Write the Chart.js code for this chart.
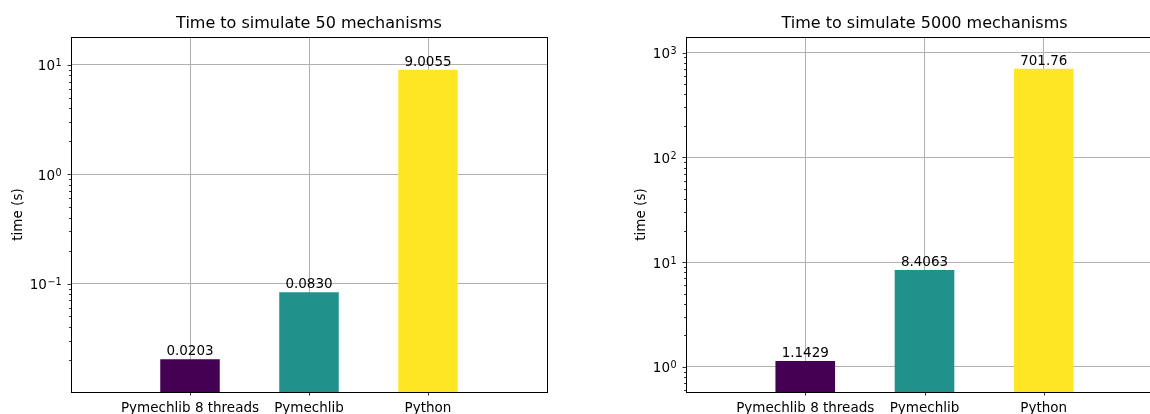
<!DOCTYPE html>
<html>
<head>
<meta charset="utf-8">
<script src="https://cdn.jsdelivr.net/npm/chart.js@4.4.1/dist/chart.umd.min.js"></script>
<style>
  html, body { margin: 0; padding: 0; background: #fff; width: 1150px; height: 414px; overflow: hidden; }
  canvas { position: absolute; top: 0; }
  #c50 { left: 0; }
  #c5000 { left: 575px; }
</style>
</head>
<body>
<canvas id="c50" width="575" height="414"></canvas>
<canvas id="c5000" width="600" height="414"></canvas>
<script>
// Benchmark results (seconds)
const categories = ['Pymechlib 8 threads', 'Pymechlib', 'Python'];
const times50 = [0.0203, 0.0830, 9.0055];
const times5000 = [1.1429, 8.4063, 701.76];
const barColors = ['#440154', '#21918c', '#fde725'];
const titles = ['Time to simulate 50 mechanisms', 'Time to simulate 5000 mechanisms'];
const yRange50 = [0.0102, 17.9];
const yRange5000 = [0.577, 1409];

const FONT = "'DejaVu Sans', sans-serif";
Chart.defaults.font.family = FONT;
Chart.defaults.color = '#000';

function decade(v) {
  const e = Math.log10(v);
  const r = Math.round(e);
  return Math.abs(e - r) < 1e-9 ? r : null;
}

// 1..9 x 10^k ticks covering the axis range
function logTicks(min, max) {
  const out = [];
  for (let k = Math.floor(Math.log10(min)) - 1; k <= Math.ceil(Math.log10(max)); k++) {
    for (let m = 1; m <= 9; m++) {
      const v = parseFloat((m * Math.pow(10, k)).toPrecision(6));
      if (v >= min && v <= max) out.push({ value: v, major: m === 1 });
    }
  }
  return out;
}

// frame, tick marks, power-of-ten labels and bar value labels
const decorations = {
  id: 'decorations',
  afterDraw(chart, args, opts) {
    const { ctx, chartArea: a } = chart;
    const xs = chart.scales.x, ys = chart.scales.y;
    ctx.save();
    ctx.strokeStyle = '#000';
    ctx.fillStyle = '#000';
    ctx.lineWidth = 0.8;
    ys.ticks.forEach(t => {
      const y = ys.getPixelForValue(t.value);
      if (y < a.top - 0.5 || y > a.bottom + 0.5) return;
      const p = Math.round(y) + 0.5;
      const d = decade(t.value);
      const len = d !== null ? 3.5 : 2;
      ctx.beginPath();
      ctx.moveTo(a.left, p);
      ctx.lineTo(a.left - len, p);
      ctx.stroke();
      if (d !== null) {
        const xEnd = a.left - 9.3;
        ctx.textAlign = 'right';
        ctx.textBaseline = 'alphabetic';
        const exp = String(d).replace('-', '\u2212');
        ctx.font = '9.6px ' + FONT;
        const ew = ctx.measureText(exp).width;
        ctx.fillText(exp, xEnd, y + 1.5);
        ctx.font = '13.5px ' + FONT;
        ctx.fillText('10', xEnd - ew - 0.6, y + 5.5);
      }
    });
    for (let i = 1; i <= categories.length; i++) {
      const p = Math.round(xs.getPixelForValue(i)) + 0.5;
      ctx.beginPath();
      ctx.moveTo(p, a.bottom);
      ctx.lineTo(p, a.bottom + 3.5);
      ctx.stroke();
    }
    ctx.lineWidth = 1;
    ctx.strokeRect(Math.round(a.left) + 0.5, Math.round(a.top) + 0.5,
      Math.round(a.right - a.left), Math.round(a.bottom - a.top));

    ctx.font = '13.5px ' + FONT;
    ctx.textAlign = 'center';
    ctx.textBaseline = 'alphabetic';
    const ds = chart.data.datasets[0];
    chart.getDatasetMeta(0).data.forEach((bar, i) => {
      const v = ds.data[i];
      if (v === null) return;
      ctx.fillText(opts.format(v), bar.x, bar.y - 4);
    });
    ctx.restore();
  }
};

function makeChart(id, values, yRange, title, format, axisWidth, ylabelPad, rightPad) {
  return new Chart(document.getElementById(id), {
    type: 'bar',
    data: {
      labels: ['', ...categories, ''],
      datasets: [{
        data: [null, ...values, null],
        backgroundColor: ['#fff', ...barColors, '#fff'],
        borderWidth: 0,
        barPercentage: 0.5,
        categoryPercentage: 1
      }]
    },
    options: {
      responsive: false,
      animation: false,
      devicePixelRatio: 1,
      layout: { padding: { left: 0, right: rightPad, top: 0, bottom: 0 } },
      plugins: {
        legend: { display: false },
        tooltip: { enabled: false },
        title: {
          display: true,
          text: title,
          fullSize: false,
          color: '#000',
          font: { size: 16, weight: 'normal', family: FONT },
          padding: { top: 13.9, bottom: 3.9 }
        },
        decorations: { format }
      },
      scales: {
        x: {
          type: 'category',
          offset: false,
          z: 1,
          border: { display: false },
          grid: {
            offset: false,
            drawTicks: false,
            lineWidth: 1,
            color: c => (c.index >= 1 && c.index <= categories.length) ? '#b0b0b0' : 'rgba(0,0,0,0)'
          },
          ticks: { autoSkip: false, maxRotation: 0, padding: 8, color: '#000', font: { size: 13.5 } },
          afterFit: s => { s.height = 22; }
        },
        y: {
          type: 'logarithmic',
          min: yRange[0],
          max: yRange[1],
          z: 1,
          border: { display: false },
          grid: {
            drawTicks: false,
            lineWidth: 1,
            color: c => (c.tick && decade(c.tick.value) !== null) ? '#b0b0b0' : 'rgba(0,0,0,0)'
          },
          ticks: {
            autoSkip: false,
            padding: 9,
            color: '#000',
            font: { size: 13.5 },
            callback: () => ''
          },
          afterBuildTicks: s => { s.ticks = logTicks(yRange[0], yRange[1]); },
          title: {
            display: true,
            text: 'time (s)',
            color: '#000',
            font: { size: 13.5 },
            padding: { top: ylabelPad, bottom: 0 }
          },
          afterFit: s => { s.width = axisWidth; }
        }
      }
    },
    plugins: [decorations]
  });
}

makeChart('c50', times50, yRange50, titles[0], v => v.toFixed(4), 71, 9.9, 28);
makeChart('c5000', times5000, yRange5000, titles[1], v => v.toPrecision(5), 111, 57.9, 12);
</script>
</body>
</html>
